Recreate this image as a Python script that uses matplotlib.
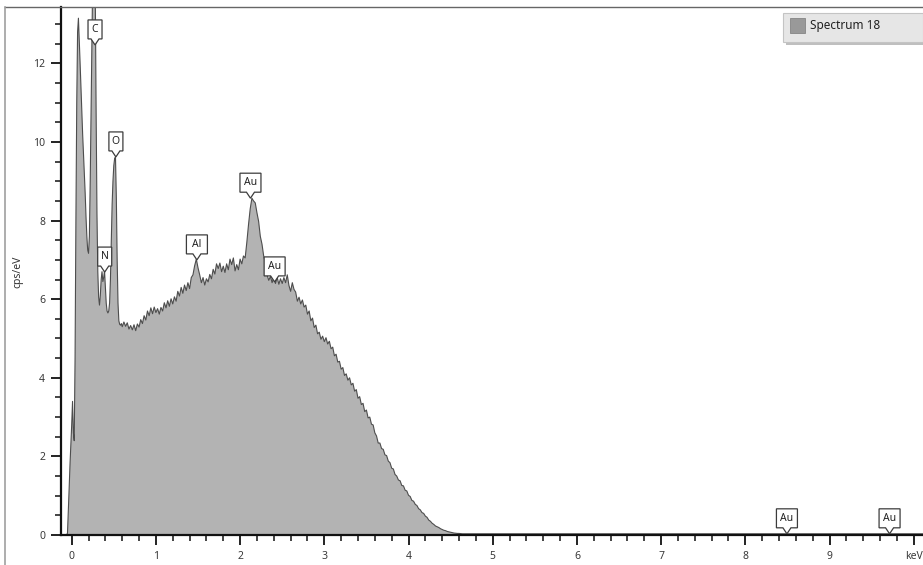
import numpy as np
import matplotlib
matplotlib.use("Agg")
import matplotlib.pyplot as plt
from matplotlib import transforms
from matplotlib.patches import Polygon, Rectangle
from matplotlib.lines import Line2D
from matplotlib.ticker import MultipleLocator, FixedLocator

plt.rcParams["font.family"] = ["Noto Sans", "DejaVu Sans"]

# ---- spectrum data -------------------------------------------------------
# low-energy channels, 0.01 keV apart, starting at -0.06 keV
low_start, low_step = -0.06, 0.01
counts_low = [
    0.0, 0.05, 0.6, 1.2, 1.8, 2.3, 2.8, 3.4, 2.6, 2.4,
    4.5, 8.0, 11.0, 12.8, 13.15, 12.6, 12.0, 11.4, 10.8, 10.2,
    9.7, 9.2, 8.7, 8.1, 7.6, 7.25, 7.17, 7.6, 9.0, 10.8,
    12.6, 14.2, 15.3, 15.5, 13.8, 10.8, 8.2, 6.7, 6.05, 5.85,
    6.1, 6.5, 6.7, 6.45, 6.55, 6.72, 6.3, 5.9, 5.7, 5.65,
    5.7, 5.9, 6.5, 7.5, 8.4, 9.0, 9.4, 9.58, 9.62, 8.6,
    7.0, 5.9, 5.45, 5.36, 5.34, 5.38,
]
# continuum channels, 0.02 keV apart, starting at 0.60 keV
high_start, high_step = 0.60, 0.02
counts_high = [
    5.30, 5.42, 5.31, 5.40, 5.24, 5.33, 5.22, 5.35, 5.20, 5.37,
    5.29, 5.48, 5.38, 5.58, 5.47, 5.70, 5.58, 5.78, 5.63, 5.80,
    5.66, 5.76, 5.62, 5.79, 5.70, 5.91, 5.78, 5.96, 5.82, 6.01,
    5.88, 6.06, 5.95, 6.20, 6.08, 6.30, 6.15, 6.36, 6.22, 6.42,
    6.27, 6.55, 6.62, 6.85, 7.02, 6.80, 6.62, 6.42, 6.55, 6.36,
    6.52, 6.44, 6.63, 6.52, 6.76, 6.64, 6.90, 6.78, 6.92, 6.70,
    6.84, 6.68, 6.90, 6.75, 7.02, 6.88, 7.05, 6.72, 6.88, 6.75,
    7.02, 6.90, 7.10, 7.05, 7.45, 7.90, 8.30, 8.57, 8.50, 8.45,
    8.20, 7.98, 7.60, 7.40, 7.10, 6.92, 6.62, 6.48, 6.58, 6.42,
    6.55, 6.40, 6.56, 6.38, 6.52, 6.40, 6.55, 6.42, 6.62, 6.35,
    6.20, 6.42, 6.25, 6.18, 5.95, 6.05, 5.88, 5.98, 5.80, 5.85,
    5.62, 5.70, 5.45, 5.52, 5.28, 5.34, 5.12, 5.16, 4.98, 5.06,
    4.92, 5.02, 4.86, 4.93, 4.74, 4.78, 4.56, 4.60, 4.40, 4.42,
    4.22, 4.26, 4.06, 4.10, 3.94, 4.00, 3.82, 3.86, 3.66, 3.70,
    3.48, 3.52, 3.32, 3.35, 3.14, 3.18, 2.98, 3.00, 2.82, 2.80,
    2.60, 2.52, 2.34, 2.34, 2.20, 2.18, 2.04, 2.02, 1.88, 1.84,
    1.70, 1.68, 1.54, 1.50, 1.40, 1.38, 1.26, 1.25, 1.14, 1.12,
    1.01, 0.98, 0.88, 0.86, 0.78, 0.75, 0.67, 0.64, 0.57, 0.55,
    0.48, 0.45, 0.38, 0.35, 0.30, 0.27, 0.23, 0.21, 0.19, 0.16,
    0.14, 0.12, 0.11, 0.09, 0.08, 0.07, 0.06, 0.05, 0.045, 0.04,
    0.04, 0.035, 0.03, 0.03, 0.03, 0.03,
]
# flat background out to the end of the range
tail_energy = [4.80, 10.30]
tail_counts = [0.03, 0.03]

# element line markers: (label, energy keV, height cps/eV)
tag_labels = ["C", "N", "O", "Al", "Au", "Au", "Au", "Au"]
tag_energy = [0.277, 0.392, 0.525, 1.487, 2.123, 2.410, 8.494, 9.713]
tag_height = [12.47, 6.69, 9.62, 7.00, 8.57, 6.44, 0.03, 0.03]

x_tick_values = [0, 1, 2, 3, 4, 5, 6, 7, 8, 9, 10]
x_tick_labels = ["0", "1", "2", "3", "4", "5", "6", "7", "8", "9", "keV"]
y_tick_values = [0, 2, 4, 6, 8, 10, 12]
legend_label = "Spectrum 18"

energy = np.concatenate([
    low_start + low_step * np.arange(len(counts_low)),
    high_start + high_step * np.arange(len(counts_high)),
    np.array(tail_energy),
])
counts = np.concatenate([counts_low, counts_high, tail_counts])

# ---- figure ------------------------------------------------------------
W, H, DPI = 923, 565, 100
fig = plt.figure(figsize=(W / DPI, H / DPI), dpi=DPI)
fig.patch.set_facecolor("white")


def px_rect(left, top, right, bottom):
    return [left / W, 1 - bottom / H, (right - left) / W, (bottom - top) / H]


ax = fig.add_axes(px_rect(61, 7, 923, 535))
ax.fill_between(energy, counts, 0, color="#b3b3b3", linewidth=0, zorder=1)
ax.plot(energy, counts, color="#4d4d4d", linewidth=0.8, zorder=2)

ax.set_xlim(-0.127, 10.11)
ax.set_ylim(0, 13.435)

ax.xaxis.set_major_locator(FixedLocator(x_tick_values))
ax.set_xticklabels(x_tick_labels)
ax.xaxis.set_minor_locator(MultipleLocator(0.2))
ax.yaxis.set_major_locator(FixedLocator(y_tick_values))
ax.yaxis.set_minor_locator(MultipleLocator(0.5))

for side in ("top", "right"):
    ax.spines[side].set_visible(False)
for side in ("left", "bottom"):
    ax.spines[side].set_linewidth(1.6)
    ax.spines[side].set_color("#111111")

ax.tick_params(which="major", direction="out", length=7.5, width=1.3,
               color="#111111", labelsize=7.5, labelcolor="#3a3a3a")
ax.tick_params(which="minor", direction="out", length=4.2, width=1.1,
               color="#111111")
ax.tick_params(axis="x", which="major", pad=4)
ax.tick_params(axis="y", which="major", pad=4)

# element callout tags
box_gap, notch, box_h = 6, 4, 19
for lab, e, h in zip(tag_labels, tag_energy, tag_height):
    w = 14 if len(lab) == 1 else 21
    verts = np.array([
        (0, 0), (-notch, box_gap), (-w / 2, box_gap), (-w / 2, box_gap + box_h),
        (w / 2, box_gap + box_h), (w / 2, box_gap), (notch, box_gap),
    ]) / DPI
    trans = fig.dpi_scale_trans + transforms.ScaledTranslation(e, h, ax.transData)
    poly = Polygon(verts, closed=True, transform=trans, facecolor="white",
                   edgecolor="#3c3c3c", linewidth=0.9, zorder=5, clip_on=False)
    ax.add_artist(poly)
    ax.annotate(lab, (e, h), xytext=(0, (box_gap + box_h / 2) * 72 / DPI),
                textcoords="offset points", ha="center", va="center",
                fontsize=7.5, color="#222222", zorder=6, annotation_clip=False)

# axis title
fig.text(18 / W, 1 - 272 / H, "cps/eV", rotation=90, ha="center", va="center",
         fontsize=7.5, color="#333333")

# outer frame lines
fig.add_artist(Line2D([5 / W, 1], [1 - 7 / H, 1 - 7 / H], color="#666666",
                      linewidth=1.0))
fig.add_artist(Line2D([5 / W, 5 / W], [0, 1 - 7 / H], color="#a0a0a0",
                      linewidth=1.2))

# legend panel
fig.add_artist(Rectangle((786 / W, 1 - 45 / H), (W - 786) / W, 30 / H,
                         transform=fig.transFigure, facecolor="#8c8c8c",
                         edgecolor="none", alpha=0.55))
fig.add_artist(Rectangle((783 / W, 1 - 42 / H), (W - 783) / W, 29 / H,
                         transform=fig.transFigure, facecolor="#e6e6e6",
                         edgecolor="#c4c4c4", linewidth=0.8))
fig.add_artist(Rectangle((790 / W, 1 - 33 / H), 15 / W, 15 / H,
                         transform=fig.transFigure, facecolor="#999999",
                         edgecolor="#858585", linewidth=0.6))
fig.text(810 / W, 1 - 26 / H, legend_label, ha="left", va="center",
         fontsize=8.5, color="#222222")

fig.savefig("out.png", dpi=DPI)
